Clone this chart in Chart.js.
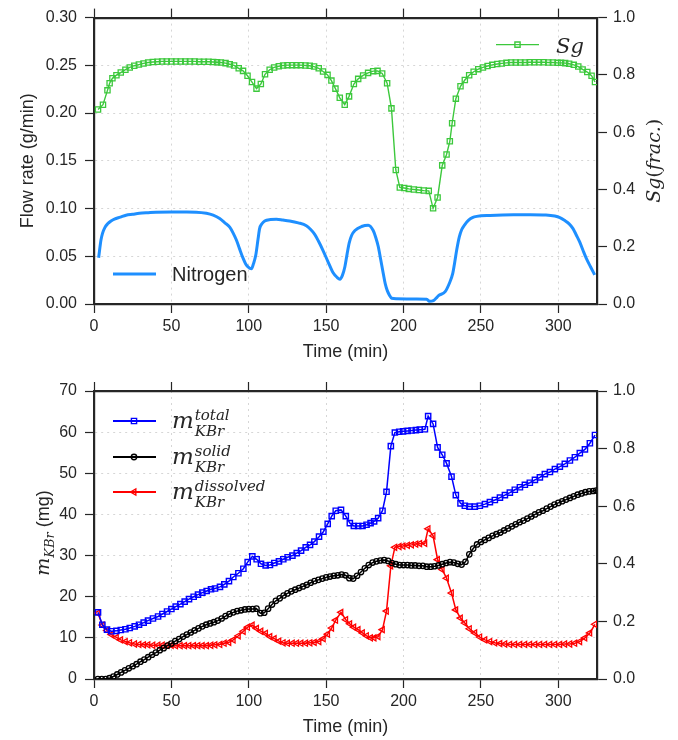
<!DOCTYPE html>
<html lang="en">
<head>
<meta charset="UTF-8">
<title>Nitrogen flow, Sg and KBr mass</title>
<script src="https://cdn.jsdelivr.net/npm/chart.js"></script>
<style>
  body { margin: 0; background: #fff; }
  canvas { display: block; }
</style>
</head>
<body>
<canvas id="flowChart" width="678" height="370"></canvas>
<canvas id="massChart" width="678" height="370"></canvas>
<script>
// tick values
const timeTicks = [0, 50, 100, 150, 200, 250, 300];
const flowTicks = [0, 0.05, 0.1, 0.15, 0.2, 0.25, 0.3];
const fracTicks = [0, 0.2, 0.4, 0.6, 0.8, 1.0];
const massTicks = [0, 10, 20, 30, 40, 50, 60, 70];

// top panel: nitrogen flow rate (g/min) and gas saturation Sg (fraction)
const nitrogenTime = [3, 4.5, 5.5, 7, 8.8, 11, 13.2, 17, 20.7, 25, 29.3, 35, 40, 50, 60, 66, 72.6, 77, 81.2, 84.5,
  87.7, 90, 92, 94, 96.3, 98, 99.5, 101.7, 103, 104.5, 106, 107, 108.5, 110.3, 114, 117.8, 122, 126.4, 132, 137.2,
  140, 142.6, 145, 148, 151, 154.4, 157, 158.9, 160.5, 162.1, 163.5, 164.9, 166.5, 168.6, 172.9, 177.2, 180.4, 182, 183.7, 185.3,
  186.9, 188.2, 189.5, 191, 192.4, 195.6, 202, 208, 215, 216.7, 219.3, 221, 222.6, 226.9, 229.7, 231.8, 233, 234.4, 236, 237.6,
  239.5, 241.9, 244.5, 247.3, 255.9, 271, 282, 292, 297.7, 301, 304, 307, 309.5, 311.7, 313.8, 316, 318.1, 320.8, 323.5];
const nitrogenRate = [0.0485, 0.067, 0.074, 0.080, 0.084, 0.087, 0.089, 0.091, 0.093, 0.094, 0.095, 0.0957, 0.0962, 0.0963, 0.0963, 0.0962, 0.0950, 0.093, 0.0895, 0.085,
  0.0805, 0.074, 0.067, 0.058, 0.048, 0.042, 0.039, 0.037, 0.042, 0.051, 0.068, 0.079, 0.084, 0.087, 0.0885, 0.0888, 0.088, 0.087, 0.085, 0.082,
  0.078, 0.073, 0.066, 0.056, 0.045, 0.033, 0.028, 0.026, 0.030, 0.039, 0.052, 0.064, 0.072, 0.077, 0.0812, 0.0825, 0.077, 0.070, 0.060, 0.046,
  0.032, 0.021, 0.014, 0.009, 0.006, 0.0055, 0.0053, 0.0052, 0.0050, 0.0028, 0.0035, 0.006, 0.0087, 0.013, 0.022, 0.032, 0.043, 0.057, 0.070, 0.078,
  0.083, 0.0876, 0.0905, 0.0918, 0.0928, 0.0935, 0.0935, 0.0932, 0.0921, 0.0905, 0.0876, 0.084, 0.079, 0.072, 0.065, 0.056, 0.0478, 0.039, 0.0305];

const sgTime = [2.6, 5.8, 8.7, 10.1, 11.9, 14.5, 17.3, 20.3, 23.1, 26, 29, 32, 35, 38, 41, 44, 47, 50, 53, 56,
  59, 62, 65, 68, 71, 74, 77, 79.5, 82, 85, 87.7, 90.5, 93.5, 96.3, 99.2, 102.1, 105, 107.8, 110.5, 113.5,
  116.4, 119.4, 122.2, 125, 128, 130.8, 133.6, 136.6, 139.4, 142.2, 145.2, 148, 150.9, 153.4, 156, 158.8, 162, 164.8, 167.9, 170.7,
  173.9, 177.1, 180.4, 183.2, 186.2, 189.4, 192.2, 195, 197.6, 200.4, 203.4, 206.7, 209.9, 213.1, 216.3, 219.1, 222, 225, 227.8, 229.9,
  231.4, 233.8, 236.8, 239.6, 242.4, 245.3, 248.3, 251.3, 254.3, 257.3, 260.5, 263.5, 266.5, 269.5, 272.5, 275.5, 278.5, 281.5, 284.5, 287.5,
  290.5, 293.5, 296.5, 299.5, 301.8, 304.4, 307, 310, 312.9, 315.7, 318.7, 321.5, 323.7];
const sgValue = [0.679, 0.696, 0.746, 0.771, 0.788, 0.799, 0.808, 0.818, 0.826, 0.832, 0.836, 0.840, 0.843, 0.845, 0.846, 0.847, 0.847, 0.847, 0.847, 0.847,
  0.847, 0.847, 0.847, 0.846, 0.846, 0.846, 0.845, 0.844, 0.843, 0.841, 0.837, 0.833, 0.823, 0.814, 0.797, 0.775, 0.752, 0.768, 0.802, 0.818,
  0.826, 0.830, 0.833, 0.834, 0.834, 0.834, 0.834, 0.833, 0.832, 0.829, 0.823, 0.812, 0.800, 0.780, 0.752, 0.720, 0.696, 0.725, 0.768, 0.786,
  0.798, 0.807, 0.813, 0.814, 0.805, 0.771, 0.683, 0.468, 0.407, 0.405, 0.402, 0.400, 0.398, 0.396, 0.395, 0.334, 0.372, 0.484, 0.522, 0.568,
  0.631, 0.717, 0.760, 0.782, 0.799, 0.811, 0.820, 0.826, 0.831, 0.835, 0.838, 0.840, 0.842, 0.843, 0.843, 0.843, 0.843, 0.844, 0.844, 0.844,
  0.844, 0.843, 0.843, 0.842, 0.842, 0.841, 0.839, 0.835, 0.829, 0.819, 0.810, 0.797, 0.775];

// bottom panel: KBr mass (mg); total and dissolved share one time list
const totalTime = [2.6, 5.4, 8.4, 11.2, 14.5, 17.3, 20.3, 23.1, 26.3, 29.1, 32.1, 34.9, 38.1, 41.4, 44.2, 47.2, 50, 52.8, 55.8, 58.6,
  61.4, 64.4, 67.2, 70, 72.8, 75.6, 78.2, 81.4, 84.2, 87.2, 90, 93.3, 96.5, 99.3, 102.3, 105.1, 107.9, 110.9, 113.7, 116.5,
  119.5, 122.3, 125.1, 128.2, 131, 133.8, 136.8, 139.6, 142.4, 145.4, 148.2, 151, 153.6, 156.2, 159.6, 162.7, 165.3, 167.9, 170.7, 173.5,
  176.1, 178.7, 181, 183.6, 186.4, 189, 191.8, 194.4, 197.2, 199.7, 202.6, 205.2, 208, 210.5, 213.8, 215.9, 219.1, 222, 225, 227.8,
  231, 233.8, 236.8, 239.6, 242.6, 246.1, 249.3, 252.6, 255.8, 259, 262.3, 265.5, 268.7, 271.9, 275.2, 278.4, 281.6, 284.9, 288.1, 291.3,
  294.6, 297.8, 301, 304.2, 307.5, 310.7, 313.9, 317.2, 320.4, 323.7];
const totalMass = [16.2, 13.2, 12.0, 11.6, 11.7, 11.9, 12.1, 12.4, 12.8, 13.2, 13.7, 14.2, 14.7, 15.2, 15.8, 16.4, 17.0, 17.6, 18.2, 18.8,
  19.4, 20.0, 20.5, 21.0, 21.4, 21.8, 22.0, 22.4, 23.0, 23.8, 24.8, 25.7, 26.8, 28.4, 29.8, 29.1, 28.0, 27.6, 27.7, 28.2,
  28.6, 29.1, 29.6, 30.0, 30.6, 31.2, 32.0, 32.6, 33.4, 34.6, 35.8, 37.7, 39.6, 40.9, 41.1, 39.6, 37.9, 37.2, 37.2, 37.2,
  37.5, 37.9, 38.3, 39.1, 40.9, 45.5, 56.6, 59.9, 60.1, 60.2, 60.3, 60.4, 60.5, 60.6, 60.7, 63.9, 62.0, 56.3, 54.5, 52.4,
  49.2, 44.7, 42.7, 42.1, 41.9, 41.9, 42.1, 42.5, 43.0, 43.5, 44.1, 44.7, 45.3, 46.0, 46.6, 47.2, 47.7, 48.4, 49.0, 49.8,
  50.3, 51.0, 51.6, 52.3, 53.1, 53.9, 54.9, 55.8, 57.3, 59.3];
const dissolvedMass = [16.0, 13.1, 11.8, 10.8, 10.1, 9.5, 9.1, 8.8, 8.5, 8.4, 8.3, 8.3, 8.2, 8.2, 8.2, 8.2, 8.2, 8.1, 8.1, 8.1,
  8.1, 8.1, 8.1, 8.1, 8.1, 8.2, 8.3, 8.4, 8.7, 8.9, 9.5, 10.5, 11.6, 12.6, 13.1, 12.3, 11.6, 11.1, 10.3, 9.8,
  9.2, 8.8, 8.7, 8.7, 8.7, 8.7, 8.7, 8.8, 8.9, 9.1, 9.8, 10.9, 12.4, 14.3, 16.2, 14.4, 13.4, 12.6, 12.0, 11.2,
  10.5, 10.0, 10.0, 10.3, 12.0, 16.5, 27.5, 32.0, 32.2, 32.3, 32.5, 32.6, 32.8, 32.9, 33.0, 36.5, 34.8, 29.0, 26.6, 24.5,
  20.9, 16.8, 14.8, 13.6, 12.2, 11.2, 10.2, 9.5, 9.1, 8.8, 8.6, 8.5, 8.4, 8.4, 8.4, 8.4, 8.4, 8.4, 8.4, 8.4,
  8.4, 8.4, 8.4, 8.5, 8.5, 8.7, 9.1, 10.0, 11.2, 13.3];
const solidTime = [2.5, 5, 7.5, 10, 12.5, 15, 17.5, 20, 22.5, 25, 27.5, 30, 32.5, 35, 37.5, 40, 42.5, 45, 47.5, 50,
  52.5, 55, 57.5, 60, 62.5, 65, 67.5, 70, 72.5, 75, 77.5, 80, 82.5, 85, 87.5, 90, 92.5, 95, 97.5, 100,
  102.5, 105, 107.5, 110, 112.5, 115, 117.5, 120, 122.5, 125, 127.5, 130, 132.5, 135, 137.5, 140, 142.5, 145, 147.5, 150,
  152.5, 155, 157.5, 160, 162.5, 165, 167.5, 170, 172.5, 175, 177.5, 180, 182.5, 185, 187.5, 190, 192.5, 195, 197.5, 200,
  202.5, 205, 207.5, 210, 212.5, 215, 217.5, 220, 222.5, 225, 227.5, 230, 232.5, 235, 237.5, 240, 242.5, 245, 247.5, 250,
  252.5, 255, 257.5, 260, 262.5, 265, 267.5, 270, 272.5, 275, 277.5, 280, 282.5, 285, 287.5, 290, 292.5, 295, 297.5, 300,
  302.5, 305, 307.5, 310, 312.5, 315, 317.5, 320, 322.5, 324.5];
const solidMass = [0.0, 0.0, 0.0, 0.2, 0.6, 1.1, 1.6, 2.1, 2.6, 3.1, 3.6, 4.2, 4.7, 5.3, 5.9, 6.4, 7.0, 7.5, 8.1, 8.6,
  9.2, 9.7, 10.3, 10.8, 11.3, 11.8, 12.3, 12.8, 13.2, 13.5, 13.8, 14.2, 14.7, 15.3, 15.8, 16.2, 16.5, 16.7, 16.9, 17.0,
  17.0, 17.1, 16.0, 16.1, 17.1, 18.1, 19.0, 19.6, 20.3, 20.8, 21.3, 21.7, 22.1, 22.5, 22.9, 23.4, 23.8, 24.1, 24.4, 24.7,
  24.9, 25.1, 25.2, 25.4, 25.2, 24.5, 24.4, 25.1, 26.0, 26.9, 27.7, 28.3, 28.6, 28.8, 28.9, 28.7, 28.2, 27.9, 27.7, 27.7,
  27.7, 27.6, 27.6, 27.5, 27.5, 27.3, 27.3, 27.4, 27.6, 27.9, 28.2, 28.4, 28.3, 28.0, 27.8, 28.5, 30.3, 31.7, 32.7, 33.3,
  33.8, 34.3, 34.8, 35.2, 35.6, 36.1, 36.6, 37.1, 37.6, 38.1, 38.5, 39.0, 39.5, 40.0, 40.5, 40.9, 41.4, 41.9, 42.4, 42.8,
  43.2, 43.6, 44.0, 44.4, 44.8, 45.1, 45.4, 45.6, 45.7, 45.8];

const INK = '#262626';
const GRID = '#d6d6d6';
const SANS = '"Liberation Sans", Arial, sans-serif';
const SERIF = '"DejaVu Serif", serif';
const tickFont = { family: SANS, size: 16 };

const GREEN = '#3cc83c';
const NITRO = '#1e8fff';
const BLUE = '#0000ff';
const RED = '#ff0000';

function pts(t, v) {
  return t.map((x, i) => ({ x: x, y: v[i] }));
}

function setTicks(values) {
  return s => { s.ticks = values.map(v => ({ value: v })); };
}

// grid line hidden on the frame edges, tick marks kept
function gridColor(lo, hi) {
  return c => (c.tick && (Math.abs(c.tick.value - lo) < 1e-9 || Math.abs(c.tick.value - hi) < 1e-9)) ? 'rgba(0,0,0,0)' : GRID;
}

function xScales(bottomH, topH) {
  return {
    x: {
      type: 'linear', position: 'bottom', min: 0, max: 325,
      afterBuildTicks: setTicks(timeTicks),
      afterFit: s => { s.height = bottomH; },
      grid: { color: gridColor(0, 325), lineWidth: 1, tickColor: INK, tickLength: 9, tickWidth: 1.2 },
      border: { display: true, color: INK, width: 2.2, dash: [2, 4] },
      ticks: { font: tickFont, color: INK, padding: 4, callback: v => String(v) }
    },
    xTop: {
      type: 'linear', position: 'top', min: 0, max: 325,
      afterBuildTicks: setTicks(timeTicks),
      afterFit: s => { s.height = topH; },
      grid: { drawOnChartArea: false, tickColor: INK, tickLength: 9, tickWidth: 1.2 },
      border: { display: true, color: INK, width: 2.2 },
      ticks: { display: false }
    }
  };
}

function leftScale(max, values, digits) {
  return {
    type: 'linear', position: 'left', min: 0, max: max,
    afterBuildTicks: setTicks(values),
    afterFit: s => { s.width = 94; },
    grid: { color: gridColor(0, max), lineWidth: 1, tickColor: INK, tickLength: 9, tickWidth: 1.2 },
    border: { display: true, color: INK, width: 2.2, dash: [2, 4] },
    ticks: { font: tickFont, color: INK, padding: 8, callback: v => Number(v).toFixed(digits) }
  };
}

function rightScale() {
  return {
    type: 'linear', position: 'right', min: 0, max: 1,
    afterBuildTicks: setTicks(fracTicks),
    afterFit: s => { s.width = 81; },
    grid: { drawOnChartArea: false, tickColor: INK, tickLength: 10, tickWidth: 1.2 },
    border: { display: true, color: INK, width: 2.2 },
    ticks: { font: tickFont, color: INK, padding: 6, callback: v => Number(v).toFixed(1) }
  };
}

// text made of pieces: [{t, f, dy}] drawn one after another on one baseline
function drawRuns(ctx, runs, x, y, align) {
  let w = 0;
  runs.forEach(r => { ctx.font = r.f; r.w = ctx.measureText(r.t).width; w += r.w; });
  let cx = align === 'center' ? x - w / 2 : x;
  ctx.textAlign = 'left';
  runs.forEach(r => { ctx.font = r.f; ctx.fillText(r.t, cx, y + (r.dy || 0)); cx += r.w; });
}

// m with subscript and superscript stacked after it
function drawMass(ctx, sup, x, y) {
  ctx.textAlign = 'left';
  ctx.font = 'italic 23px ' + SERIF;
  ctx.fillText('m', x, y);
  const mx = x + ctx.measureText('m').width + 1;
  ctx.font = 'italic 15px ' + SERIF;
  ctx.fillText(sup, mx, y - 8);
  ctx.fillText('KBr', mx, y + 8);
}

function marker(ctx, style, x, y, color) {
  ctx.save();
  ctx.strokeStyle = color;
  ctx.lineWidth = 1.4;
  ctx.beginPath();
  if (style === 'rect') {
    ctx.rect(x - 2.6, y - 2.6, 5.2, 5.2);
  } else if (style === 'circle') {
    ctx.arc(x, y, 2.7, 0, Math.PI * 2);
  } else {
    ctx.moveTo(x - 3.5, y);
    ctx.lineTo(x + 1.8, y - 3.1);
    ctx.lineTo(x + 1.8, y + 3.1);
    ctx.closePath();
  }
  ctx.stroke();
  ctx.restore();
}

function legendLine(ctx, a, y, color, width) {
  ctx.save();
  ctx.strokeStyle = color;
  ctx.lineWidth = width;
  ctx.beginPath();
  ctx.moveTo(a.left + 19, y);
  ctx.lineTo(a.left + 62, y);
  ctx.stroke();
  ctx.restore();
}

const flowText = {
  id: 'flowText',
  afterDraw(chart) {
    const ctx = chart.ctx, a = chart.chartArea;
    ctx.save();
    ctx.fillStyle = INK;
    ctx.textBaseline = 'alphabetic';

    ctx.font = '18px ' + SANS;
    ctx.textAlign = 'center';
    ctx.fillText('Time (min)', (a.left + a.right) / 2, a.bottom + 53);

    ctx.save();
    ctx.translate(33, (a.top + a.bottom) / 2);
    ctx.rotate(-Math.PI / 2);
    ctx.textAlign = 'center';
    ctx.fillText('Flow rate (g/min)', 0, 0);
    ctx.restore();

    ctx.save();
    ctx.translate(a.right + 63, (a.top + a.bottom) / 2);
    ctx.rotate(-Math.PI / 2);
    drawRuns(ctx, [
      { t: 'Sg', f: 'italic 19px ' + SERIF },
      { t: '(', f: '19px ' + SERIF },
      { t: 'frac.', f: 'italic 19px ' + SERIF },
      { t: ')', f: '19px ' + SERIF }
    ], 0, 0, 'center');
    ctx.restore();

    // Nitrogen legend, lower left
    const ny = a.bottom - 30;
    legendLine(ctx, a, ny, NITRO, 3);
    ctx.font = '20px ' + SANS;
    ctx.textAlign = 'left';
    ctx.fillText('Nitrogen', a.left + 78, ny + 7);

    // Sg legend, upper right
    const sy = a.top + 27;
    ctx.save();
    ctx.strokeStyle = GREEN;
    ctx.lineWidth = 1.4;
    ctx.beginPath();
    ctx.moveTo(a.right - 101, sy);
    ctx.lineTo(a.right - 58, sy);
    ctx.stroke();
    ctx.restore();
    marker(ctx, 'rect', a.right - 79.5, sy, GREEN);
    ctx.font = 'italic 21px ' + SERIF;
    ctx.fillText('Sg', a.right - 41, sy + 8);
    ctx.restore();
  }
};

const massText = {
  id: 'massText',
  afterDraw(chart) {
    const ctx = chart.ctx, a = chart.chartArea;
    ctx.save();
    ctx.fillStyle = INK;
    ctx.textBaseline = 'alphabetic';

    ctx.font = '18px ' + SANS;
    ctx.textAlign = 'center';
    ctx.fillText('Time (min)', (a.left + a.right) / 2, a.bottom + 53);

    ctx.save();
    ctx.translate(49, (a.top + a.bottom) / 2 - 2);
    ctx.rotate(-Math.PI / 2);
    drawRuns(ctx, [
      { t: 'm', f: 'italic 19px ' + SERIF },
      { t: 'KBr', f: 'italic 13px ' + SERIF, dy: 5 },
      { t: ' (mg)', f: '18px ' + SANS }
    ], 0, 0, 'center');
    ctx.restore();

    const rows = [
      { y: a.top + 30, color: BLUE, style: 'rect', sup: 'total' },
      { y: a.top + 66, color: '#000000', style: 'circle', sup: 'solid' },
      { y: a.top + 101, color: RED, style: 'tri', sup: 'dissolved' }
    ];
    rows.forEach(r => {
      legendLine(ctx, a, r.y, r.color, 1.8);
      marker(ctx, r.style, a.left + 40, r.y, r.color);
      drawMass(ctx, r.sup, a.left + 78, r.y + 7);
    });
    ctx.restore();
  }
};

const common = {
  responsive: false,
  animation: false,
  events: [],
  layout: { padding: 0 },
  plugins: { legend: { display: false }, tooltip: { enabled: false } }
};

new Chart(document.getElementById('flowChart'), {
  type: 'line',
  data: {
    datasets: [
      {
        label: 'Nitrogen', data: pts(nitrogenTime, nitrogenRate), xAxisID: 'x', yAxisID: 'y',
        borderColor: NITRO, borderWidth: 3, pointRadius: 0, cubicInterpolationMode: 'monotone', fill: false
      },
      {
        label: 'Sg', data: pts(sgTime, sgValue), xAxisID: 'x', yAxisID: 'y1',
        borderColor: GREEN, borderWidth: 1.4, pointStyle: 'rect', pointRadius: 3.7, pointBorderWidth: 1.3,
        pointBorderColor: GREEN, pointBackgroundColor: 'rgba(0,0,0,0)', tension: 0, fill: false
      }
    ]
  },
  options: Object.assign({}, common, {
    scales: Object.assign(xScales(66, 16), { y: leftScale(0.3, flowTicks, 2), y1: rightScale() })
  }),
  plugins: [flowText]
});

new Chart(document.getElementById('massChart'), {
  type: 'line',
  data: {
    datasets: [
      {
        label: 'total', data: pts(totalTime, totalMass), xAxisID: 'x', yAxisID: 'y',
        borderColor: BLUE, borderWidth: 1.5, pointStyle: 'rect', pointRadius: 3.7, pointBorderWidth: 1.4,
        pointBorderColor: BLUE, pointBackgroundColor: 'rgba(0,0,0,0)', tension: 0, fill: false
      },
      {
        label: 'solid', data: pts(solidTime, solidMass), xAxisID: 'x', yAxisID: 'y',
        borderColor: '#000000', borderWidth: 1.5, pointStyle: 'circle', pointRadius: 2.7, pointBorderWidth: 1.3,
        pointBorderColor: '#000000', pointBackgroundColor: 'rgba(0,0,0,0)', tension: 0, fill: false
      },
      {
        label: 'dissolved', data: pts(totalTime, dissolvedMass), xAxisID: 'x', yAxisID: 'y',
        borderColor: RED, borderWidth: 1.5, pointStyle: 'triangle', pointRotation: -90, pointRadius: 3.5, pointBorderWidth: 1.3,
        pointBorderColor: RED, pointBackgroundColor: 'rgba(0,0,0,0)', tension: 0, fill: false
      }
    ]
  },
  options: Object.assign({}, common, {
    scales: Object.assign(xScales(61, 21), { y: leftScale(70, massTicks, 0), y1: rightScale() })
  }),
  plugins: [massText]
});
</script>
</body>
</html>
